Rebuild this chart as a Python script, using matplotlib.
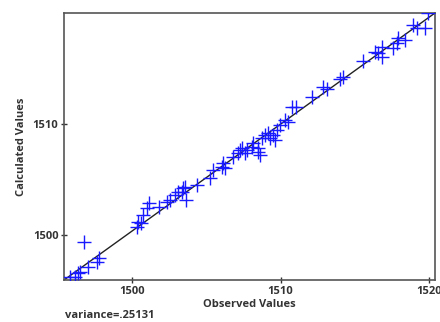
import matplotlib
matplotlib.use('Agg')
import matplotlib.pyplot as plt

# observed vs calculated values
observed = [1495.86, 1496.19, 1496.41, 1496.53, 1497.08, 1497.65, 1497.82, 1496.8,
            1500.34, 1500.45, 1500.6, 1500.78, 1501.05, 1501.18, 1501.85, 1502.35,
            1502.57, 1502.91, 1503.13, 1503.47, 1503.58, 1503.65, 1503.36, 1504.37,
            1505.26, 1505.48, 1506.05, 1506.16, 1506.27, 1506.83, 1507.16, 1507.28,
            1507.39, 1507.61, 1507.73, 1508.06, 1508.17, 1508.51, 1508.62, 1508.51,
            1508.74, 1508.96, 1509.18, 1509.29, 1509.52, 1509.63, 1509.74, 1509.97,
            1510.3, 1510.52, 1510.75, 1511.04, 1512.1, 1512.88, 1513.1, 1514.0,
            1514.22, 1515.56, 1516.35, 1516.57, 1516.8, 1516.8, 1517.58, 1517.81,
            1517.92, 1518.37, 1518.92, 1519.15, 1519.71, 1519.93]
calculated = [1496.24, 1496.24, 1496.55, 1496.69, 1497.14, 1497.59, 1497.9, 1499.34,
              1500.75, 1501.2, 1501.05, 1501.8, 1502.4, 1502.91, 1502.55, 1503.0,
              1503.15, 1503.6, 1503.9, 1504.2, 1504.35, 1503.15, 1503.9, 1504.5,
              1505.1, 1505.86, 1506.15, 1506.46, 1506.0, 1507.05, 1507.36, 1507.66,
              1507.81, 1507.36, 1507.66, 1507.96, 1508.26, 1507.81, 1507.2, 1507.5,
              1508.71, 1509.0, 1509.16, 1508.71, 1509.0, 1508.56, 1509.46, 1509.91,
              1510.36, 1510.2, 1511.56, 1511.56, 1512.4, 1513.3, 1513.2, 1514.1,
              1514.26, 1515.7, 1516.51, 1516.37, 1516.96, 1516.06, 1516.82, 1517.27,
              1517.72, 1517.57, 1518.92, 1518.62, 1518.62, 1519.97]

x_lim = (1495.45, 1520.38)
y_lim = (1495.95, 1520.0)
x_ticks = [1500, 1510, 1520]
y_ticks = [1500, 1510]
variance_text = 'variance=.25131'

plt.rcParams['font.family'] = ['Open Sans', 'DejaVu Sans']
W = 'bold'

fig = plt.figure(figsize=(4.4, 3.22), dpi=100)
ax = fig.add_axes([0.1455, 0.1304, 0.843, 0.8292])

# reference diagonal, corner to corner
ax.plot([x_lim[0], x_lim[1]], [y_lim[0], y_lim[1]], color='#222222', linewidth=1.0, zorder=2)
ax.plot(observed, calculated, linestyle='none', marker='+', markersize=10,
        markeredgewidth=1.0, color='#1a1aff', zorder=3)

ax.set_xlim(*x_lim)
ax.set_ylim(*y_lim)
ax.set_xticks(x_ticks)
ax.set_yticks(y_ticks)
ax.tick_params(direction='inout', length=4, width=1, labelsize=8, pad=2, colors='#333333')
for lab in ax.get_xticklabels() + ax.get_yticklabels():
    lab.set_fontweight(W)
for sp in ax.spines.values():
    sp.set_color('#555555')
    sp.set_linewidth(1.2)

ax.set_xlabel('Observed Values', fontsize=8, fontweight=W, labelpad=2, color='#333333')
ax.set_ylabel('Calculated Values', fontsize=8, fontweight=W, labelpad=4, color='#333333')
fig.text(0.148, 0.012, variance_text, fontsize=8, fontweight=W, color='#333333')

fig.savefig('out.png', dpi=100)
plt.close(fig)
